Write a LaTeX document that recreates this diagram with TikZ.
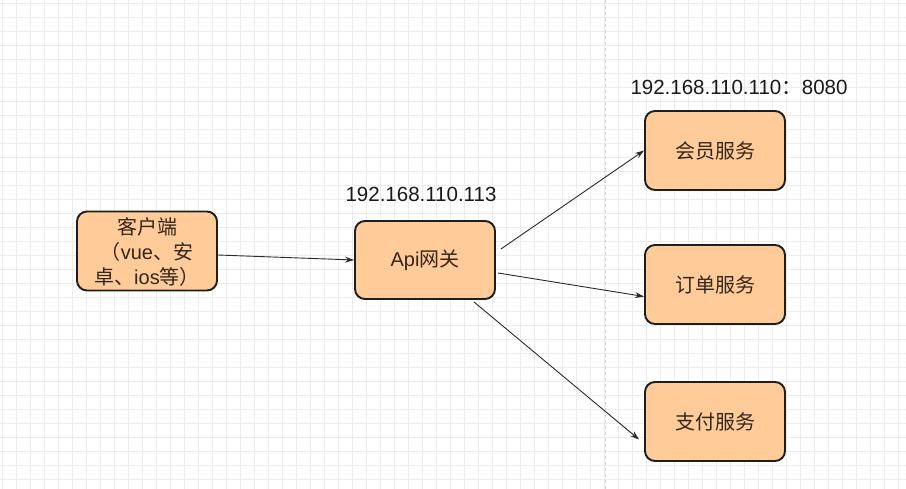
\documentclass[tikz,border=0pt]{standalone}
\usepackage{fontspec}
\setmainfont{Liberation Sans}
\newfontfamily\cjk{Noto Sans CJK SC}
\usetikzlibrary{arrows.meta}
\definecolor{boxfill}{HTML}{FFCC99}
\definecolor{boxline}{HTML}{1E1E1E}
\definecolor{boxtext}{HTML}{33261A}
\definecolor{gridc}{HTML}{EBEDEB}
\definecolor{sepc}{HTML}{D2D4D2}
\definecolor{arrowc}{HTML}{2A2A2A}
\tikzset{
  svcbox/.style={draw=boxline, line width=1.9pt, fill=boxfill, rounded corners=10pt,
    minimum width=140pt, minimum height=79pt, inner sep=0pt, align=center,
    font=\fontsize{20}{25}\selectfont, text=boxtext},
  iplabel/.style={font=\fontsize{20.5}{24}\selectfont, text=black!90, inner sep=0pt},
  conn/.style={draw=arrowc, line width=0.9pt, -{Stealth[length=9pt,width=6pt]}}
}
\begin{document}
\begin{tikzpicture}[x=1pt,y=-1pt]
\useasboundingbox (0,0) rectangle (906,489);
\fill[white] (0,0) rectangle (906,489);
\foreach \i in {0,...,64} {\draw[gridc, line width=0.8pt] ({2+14*\i},0) -- ({2+14*\i},489);}
\foreach \j in {0,...,34} {\draw[gridc, line width=0.8pt] (0,{3+14*\j}) -- (906,{3+14*\j});}
\draw[sepc, line width=0.9pt, dash pattern=on 3pt off 3pt] (605,0) -- (605,489);

\node[svcbox] (client) at (147,251) {\raisebox{-4pt}[\height][\depth]{\begin{tabular}{@{}c@{}}{\cjk 客户端}\\{\cjk （}vue{\cjk 、安}\\{\cjk 卓、}ios{\cjk 等）}\end{tabular}}};
\node[svcbox, minimum height=78pt] (api) at (425,260) {Api{\cjk 网关}};
\node[svcbox] (member) at (715,150.5) {\cjk 会员服务};
\node[svcbox] (order) at (715,284.5) {\cjk 订单服务};
\node[svcbox] (pay) at (715,421.5) {\cjk 支付服务};

\node[iplabel] (ipapi) at (421,194) {192.168.110.113};
\node[iplabel] (ipsvc) at (739,87) {192.168.110.110{\cjk ：}8080};

\draw[conn] ([yshift=-4pt]client.east) -- (api.west);
\draw[conn] ([xshift=5pt,yshift=11pt]api.east) -- (member.west);
\draw[conn] ([xshift=2pt,yshift=-13pt]api.east) -- ([yshift=-12pt]order.west);
\draw[conn] ([xshift=-22pt,yshift=-2pt]api.south east) -- ([xshift=-5pt,yshift=-18pt]pay.west);
\end{tikzpicture}
\end{document}
